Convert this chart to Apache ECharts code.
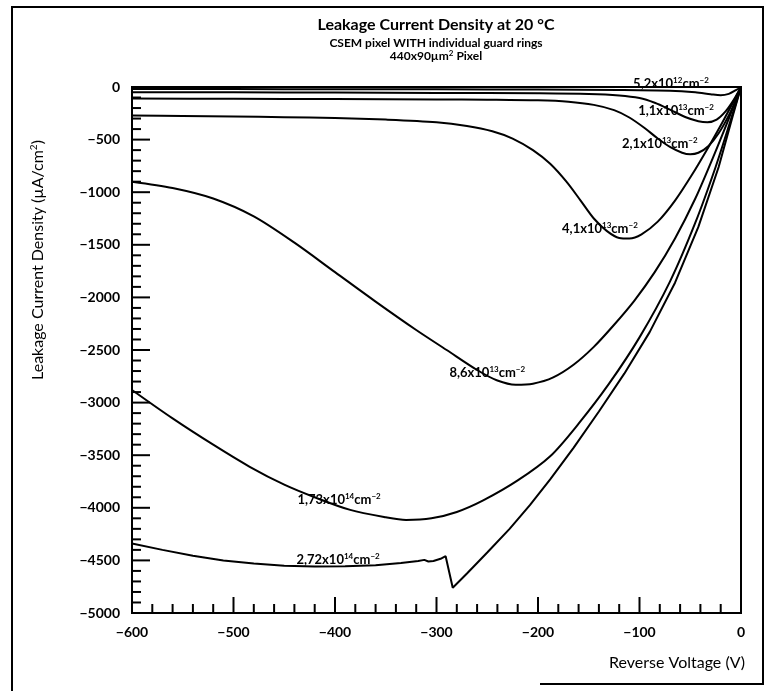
<!DOCTYPE html>
<html>
<head>
<meta charset="utf-8">
<title>Leakage Current Density at 20 °C</title>
<script src="https://cdn.jsdelivr.net/npm/echarts@6/dist/echarts.min.js"></script>
<style>
  html, body { margin: 0; padding: 0; background: #fff; }
  #chart { width: 767px; height: 691px; }
</style>
</head>
<body>
<div id="chart"></div>
<script>
// Reverse voltage (V) vs leakage current density (µA/cm²), one curve per fluence.
const fluence5_2e12 = [[-600,-20],[-500,-20],[-400,-21],[-300,-22],[-200,-24],[-120,-28],[-70,-35],[-45,-50],[-30,-68],[-20,-78],[-12,-65],[-5,-30],[0,0]];
const fluence1_1e13 = [[-600,-50],[-500,-51],[-400,-53],[-300,-56],[-200,-60],[-150,-66],[-120,-80],[-100,-105],[-85,-150],[-70,-215],[-55,-285],[-42,-325],[-33,-335],[-24,-310],[-15,-230],[-7,-120],[0,0]];
const fluence2_1e13 = [[-600,-110],[-500,-112],[-400,-115],[-300,-118],[-250,-121],[-200,-127],[-170,-140],[-145,-170],[-125,-220],[-110,-290],[-95,-390],[-82,-490],[-70,-570],[-58,-625],[-50,-640],[-42,-625],[-32,-560],[-22,-440],[-12,-270],[-5,-120],[0,0]];
const fluence4_1e13 = [[-600,-270],[-550,-275],[-500,-280],[-450,-287],[-400,-295],[-350,-310],[-300,-335],[-270,-370],[-245,-420],[-225,-490],[-205,-600],[-188,-730],[-172,-900],[-158,-1080],[-145,-1250],[-132,-1370],[-120,-1435],[-110,-1440],[-98,-1400],[-82,-1280],[-65,-1080],[-48,-830],[-32,-570],[-18,-330],[-8,-150],[0,0]];
const fluence8_6e13 = [[-600,-900],[-560,-960],[-520,-1060],[-480,-1230],[-440,-1480],[-400,-1760],[-360,-2040],[-320,-2310],[-290,-2500],[-260,-2690],[-240,-2790],[-222,-2830],[-205,-2820],[-185,-2760],[-165,-2640],[-145,-2470],[-125,-2260],[-105,-2030],[-85,-1760],[-65,-1440],[-45,-1060],[-28,-680],[-12,-300],[0,0]];
const fluence1_73e14 = [[-600,-2880],[-560,-3150],[-520,-3400],[-484,-3610],[-450,-3780],[-420,-3900],[-385,-4020],[-350,-4090],[-330,-4115],[-305,-4100],[-280,-4040],[-254,-3930],[-220,-3740],[-188,-3510],[-160,-3200],[-130,-2820],[-100,-2380],[-70,-1850],[-45,-1290],[-25,-760],[-10,-310],[0,0]];
const fluence2_72e14 = [[-600,-4340],[-570,-4400],[-540,-4455],[-510,-4500],[-480,-4530],[-450,-4550],[-420,-4558],[-390,-4555],[-360,-4545],[-335,-4525],[-318,-4505],[-312,-4495],[-308,-4510],[-303,-4505],[-296,-4485],[-291,-4460],[-284,-4760],[-270,-4625],[-250,-4425],[-228,-4200],[-208,-3975],[-188,-3730],[-165,-3430],[-140,-3085],[-115,-2725],[-90,-2330],[-65,-1860],[-42,-1330],[-22,-760],[-8,-270],[0,0]];

// Curve captions: mantissa, exponent
const curveNames = [['5,2', '12'], ['1,1', '13'], ['2,1', '13'], ['4,1', '13'], ['8,6', '13'], ['1,73', '14'], ['2,72', '14']];
const curveData = [fluence5_2e12, fluence1_1e13, fluence2_1e13, fluence4_1e13, fluence8_6e13, fluence1_73e14, fluence2_72e14];

// Tick labels
const voltageTicks = [-600, -500, -400, -300, -200, -100, 0];
const densityTicks = [-5000, -4500, -4000, -3500, -3000, -2500, -2000, -1500, -1000, -500, 0];

// Axis ranges and tick steps
const V_MIN = -600, V_MAX = 0, V_MAJOR = 100, V_MINOR = 20;
const J_MIN = -5000, J_MAX = 0, J_MAJOR = 500, J_MINOR = 100;

// Where each caption sits, in (V, µA/cm²)
const captionAnchors = [[-69, 28], [-64, -228], [-80, -542], [-139, -1350], [-250, -2719], [-396, -3926], [-397, -4496]];

const FONT = 'Lato, "DejaVu Sans", sans-serif';
const chart = echarts.init(document.getElementById('chart'), null, { renderer: 'canvas' });

const minus = v => (v < 0 ? '\u2212' + Math.abs(v) : String(v));

// Inward-pointing tick marks along the bottom and left edges
const stepsOf = (lo, hi, step) => { const out = []; for (let t = lo; t <= hi + 1e-9; t += step) out.push(t); return out; };
const xTickMarks = stepsOf(V_MIN, V_MAX, V_MINOR).map(v => [v, J_MIN]);
const yTickMarks = stepsOf(J_MIN, J_MAX, J_MINOR).map(j => [V_MIN, j]);

const tickSeries = (marks, isX) => ({
  type: 'custom',
  data: marks,
  silent: true,
  clip: false,
  z: 6,
  renderItem: (params, api) => {
    const x = api.value(0), y = api.value(1);
    const v = isX ? x : y;
    const p = api.coord([x, y]);
    const major = Math.abs(v % (isX ? V_MAJOR : J_MAJOR)) < 1e-6;
    const len = major ? (isX ? 16 : 18) : 9;
    const shape = isX
      ? { x1: p[0], y1: p[1], x2: p[0], y2: p[1] - len }
      : { x1: p[0], y1: p[1], x2: p[0] + len, y2: p[1] };
    return { type: 'line', shape: shape, style: { stroke: '#000', lineWidth: 2 } };
  }
});

const option = {
  backgroundColor: '#fff',
  animation: false,
  grid: { left: 132, right: 26, top: 87, bottom: 78, show: true, borderColor: '#000', borderWidth: 2 },
  xAxis: {
    type: 'value', min: V_MIN, max: V_MAX, interval: V_MAJOR,
    axisLine: { show: true, onZero: false, lineStyle: { color: '#000', width: 2 } },
    axisTick: { show: false },
    splitLine: { show: false },
    axisLabel: {
      color: '#000', fontFamily: FONT, fontWeight: 'bold', fontSize: 14, margin: 12,
      formatter: v => (voltageTicks.includes(v) ? minus(v) : '')
    }
  },
  yAxis: {
    type: 'value', min: J_MIN, max: J_MAX, interval: J_MAJOR,
    axisLine: { show: true, onZero: false, lineStyle: { color: '#000', width: 2 } },
    axisTick: { show: false },
    splitLine: { show: false },
    axisLabel: {
      color: '#000', fontFamily: FONT, fontWeight: 'bold', fontSize: 14, margin: 12,
      formatter: v => (densityTicks.includes(v) ? minus(v) : '')
    }
  },
  series: curveData.map((d, i) => ({
    type: 'line',
    name: curveNames[i][0] + 'x10^' + curveNames[i][1],
    data: d,
    showSymbol: false,
    smooth: i === 6 ? false : 0.3,
    lineStyle: { color: '#000', width: 2 },
    z: 3
  })).concat([tickSeries(xTickMarks, true), tickSeries(yTickMarks, false)]),
  graphic: [
    // outer frame
    { type: 'line', shape: { x1: 11, y1: 7, x2: 764, y2: 7 }, style: { stroke: '#000', lineWidth: 2 } },
    { type: 'line', shape: { x1: 12, y1: 7, x2: 12, y2: 691 }, style: { stroke: '#000', lineWidth: 2 } },
    { type: 'line', shape: { x1: 763, y1: 7, x2: 763, y2: 684 }, style: { stroke: '#000', lineWidth: 2 } },
    { type: 'line', shape: { x1: 540, y1: 684, x2: 764, y2: 684 }, style: { stroke: '#000', lineWidth: 2 } },
    // titles
    { type: 'text', x: 436, y: 25, style: { text: 'Leakage Current Density at 20 °C', font: 'bold 16px ' + FONT, fill: '#000', align: 'center', verticalAlign: 'middle' } },
    { type: 'text', x: 436, y: 43, style: { text: 'CSEM pixel WITH individual guard rings', font: 'bold 12px ' + FONT, fill: '#000', align: 'center', verticalAlign: 'middle' } },
    { type: 'text', x: 436, y: 56, style: {
      text: '{t|440x90µm}{s|2}{t| Pixel}', align: 'center', verticalAlign: 'middle',
      rich: { t: { font: 'bold 12px ' + FONT, fill: '#000' }, s: { font: 'bold 8px ' + FONT, fill: '#000', padding: [0, 0, 6, 0] } }
    } },
    // axis names
    { type: 'text', x: 38, y: 260, rotation: Math.PI / 2, style: {
      text: '{t|Leakage Current Density (µA/cm}{s|2}{t|)}', align: 'center', verticalAlign: 'middle',
      rich: { t: { font: '16px ' + FONT, fill: '#000' }, s: { font: '10px ' + FONT, fill: '#000', padding: [0, 0, 8, 0] } }
    } },
    { type: 'text', x: 745, y: 663, style: { text: 'Reverse Voltage (V)', font: '16px ' + FONT, fill: '#000', align: 'right', verticalAlign: 'middle' } }
  ]
};

chart.setOption(option);

// Curve captions placed in data space
const captions = captionAnchors.map((a, i) => {
  const p = chart.convertToPixel({ gridIndex: 0 }, a);
  return {
    type: 'text', x: p[0], y: p[1], z: 10,
    style: {
      text: '{t|' + curveNames[i][0] + 'x10}{s|' + curveNames[i][1] + '}{t|cm}{s|\u22122}',
      align: 'center', verticalAlign: 'middle',
      rich: {
        t: { font: 'bold 13px ' + FONT, fill: '#000' },
        s: { font: 'bold 8px ' + FONT, fill: '#000', padding: [0, 0, 7, 0] }
      }
    }
  };
});
chart.setOption({ graphic: option.graphic.concat(captions) });
</script>
</body>
</html>
